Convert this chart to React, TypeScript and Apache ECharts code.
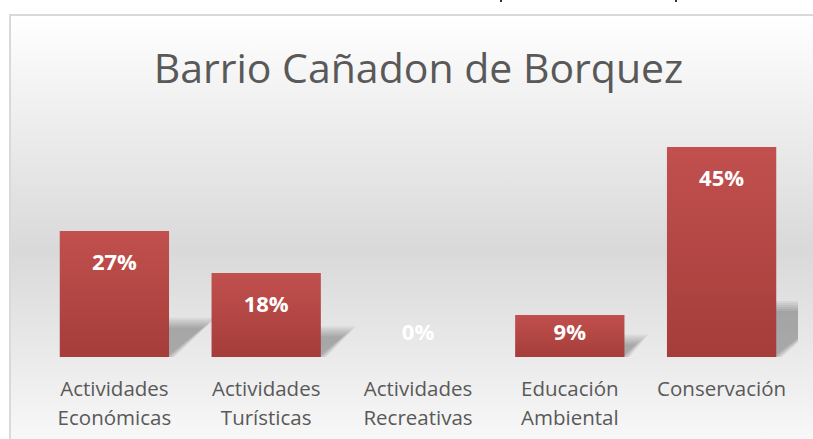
import React, { useEffect, useRef } from "react";
import * as echarts from "echarts";

const titleText = "Barrio Cañadon de Borquez";
const categories = [
  "Actividades\nEconómicas",
  "Actividades\nTurísticas",
  "Actividades\nRecreativas",
  "Educación\nAmbiental",
  "Conservación",
];
const values = [27, 18, 0, 9, 45];
const valueMax = 50;

export default function App() {
  const ref = useRef<HTMLDivElement>(null);
  useEffect(() => {
    const chart = echarts.init(ref.current!, null, { renderer: "svg" });
    const font = "'Open Sans', sans-serif";
    const barColor = new echarts.graphic.LinearGradient(0, 0, 0, 1, [
      { offset: 0, color: "#c1504e" },
      { offset: 1, color: "#a53d3a" },
    ]);
    chart.setOption({
      animation: false,
      grid: { left: 38.5, right: 15.5, top: 123.7, bottom: 82 },
      xAxis: {
        type: "category",
        data: categories,
        axisLine: { show: false },
        axisTick: { show: false },
        axisLabel: {
          color: "#595959",
          fontFamily: font,
          fontSize: 20.5,
          lineHeight: 29,
          margin: 16,
          interval: 0,
        },
      },
      yAxis: {
        type: "value",
        min: 0,
        max: valueMax,
        show: false,
        splitLine: { show: false },
      },
      graphic: [
        {
          type: "rect",
          z: -10,
          shape: { x: 10, y: 15, width: 900, height: 470 },
          style: {
            fill: new echarts.graphic.LinearGradient(0, 0, 0, 1, [
              { offset: 0, color: "#ffffff" },
              { offset: 0.5, color: "#d9d9d9" },
              { offset: 1, color: "#ffffff" },
            ]),
            stroke: "#d9d9d9",
            lineWidth: 2,
          },
        },
        {
          type: "text",
          z: 10,
          x: 418.5,
          y: 67,
          style: {
            text: titleText,
            fill: "#595959",
            font: `41px ${font}`,
            textAlign: "center",
            textVerticalAlign: "middle",
          },
        },
        { type: "rect", z: 10, shape: { x: 500, y: 0, width: 2, height: 2 }, style: { fill: "#333" } },
        { type: "rect", z: 10, shape: { x: 675, y: 0, width: 2, height: 2 }, style: { fill: "#333" } },
      ],
      series: [
        {
          type: "custom",
          clip: true,
          z: 1,
          data: values.map((v, i) => [i, v]),
          renderItem: (params: any, api: any) => {
            const i = api.value(0);
            const v = api.value(1);
            if (!v) return null;
            const base = api.coord([i, 0]);
            const top = api.coord([i, v]);
            const bw = api.size([1, 0])[0] * 0.72;
            const h = base[1] - top[1];
            const left = base[0] - bw / 2;
            const right = base[0] + bw / 2;
            const sh = h * 0.2 + 4;
            const dx = h * 0.27;
            const layers = [];
            const n = 6;
            for (let k = n - 1; k >= 0; k--) {
              const e = k * 2.5;
              layers.push({
                type: "polygon",
                shape: {
                  points: [
                    [left, base[1] - 2 + e * 0.3],
                    [right + e * 0.3, base[1] - 2 + e * 0.3],
                    [right + dx + e, base[1] - sh - e * 0.8],
                    [left + dx, base[1] - sh - e * 0.8],
                  ],
                },
                style: { fill: "rgba(0,0,0,0.05)" },
              });
            }
            return { type: "group", children: layers };
          },
        },
        {
          type: "bar",
          z: 2,
          barCategoryGap: "28%",
          data: values.map((v) => ({
            value: v,
            label: v < 12
              ? { position: "insideBottom", distance: 15 }
              : { position: "insideTop", distance: 19 },
          })),
          itemStyle: { color: barColor },
          label: {
            show: true,
            formatter: "{c}%",
            color: "#ffffff",
            fontFamily: font,
            fontWeight: "bold",
            fontSize: 22,
          },
        },
      ],
    });
    return () => chart.dispose();
  }, []);
  return (
    <div
      ref={ref}
      style={{ position: "absolute", left: 0, top: 0, width: 813, height: 439 }}
    />
  );
}
